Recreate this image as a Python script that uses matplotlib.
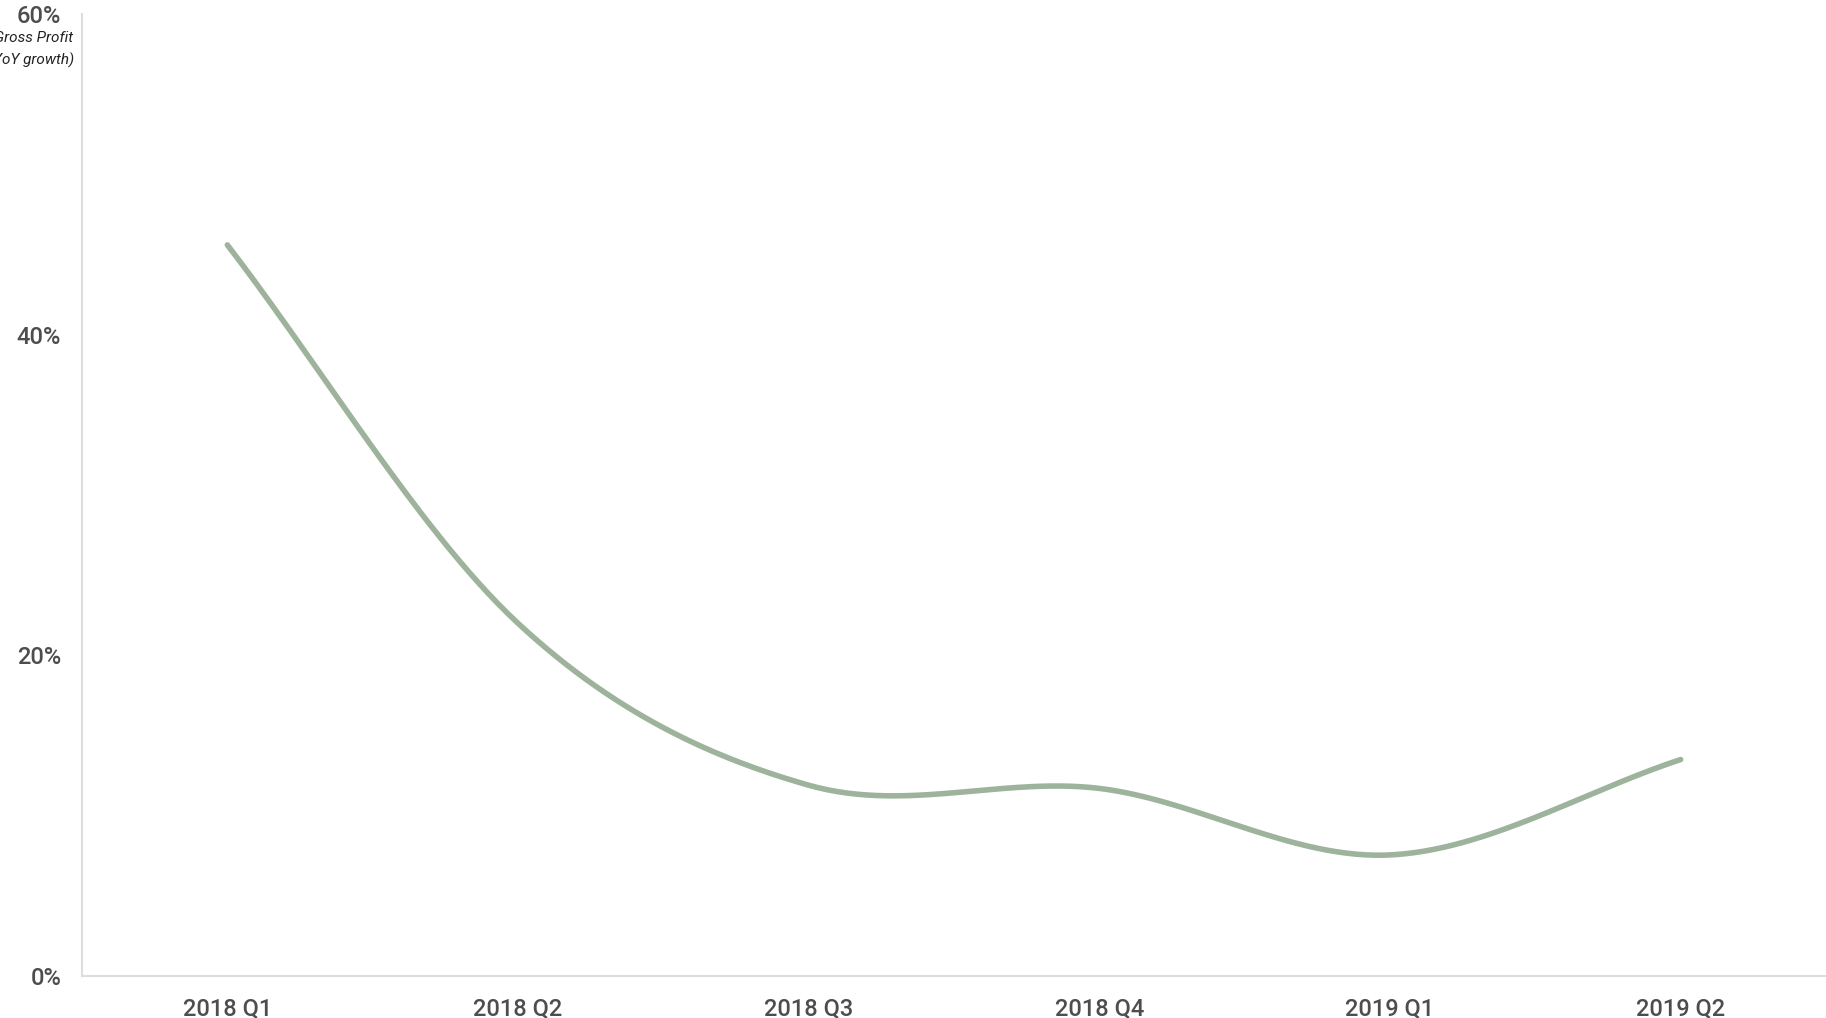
import matplotlib
matplotlib.use("Agg")
import matplotlib.pyplot as plt
import numpy as np

quarters = ["2018 Q1", "2018 Q2", "2018 Q3", "2018 Q4", "2019 Q1", "2019 Q2"]
growth = [45.6, 22.0, 11.9, 11.7, 7.55, 13.5]
yticks = [0, 20, 40, 60]
ytick_labels = ["0%", "20%", "40%", "60%"]

plt.rcParams['font.family'] = ['Roboto', 'DejaVu Sans']


def catmull_rom(y, steps=60):
    # smooth curve through the points (cardinal spline, tension 0)
    y = np.asarray(y, dtype=float)
    n = len(y)
    ext = np.concatenate([[2 * y[0] - y[1]], y, [2 * y[-1] - y[-2]]])
    xs, ys = [], []
    for i in range(n - 1):
        p0, p1, p2, p3 = ext[i], ext[i + 1], ext[i + 2], ext[i + 3]
        m1 = (p2 - p0) / 2
        m2 = (p3 - p1) / 2
        t = np.linspace(0, 1, steps, endpoint=(i == n - 2))
        h00 = 2 * t**3 - 3 * t**2 + 1
        h10 = t**3 - 2 * t**2 + t
        h01 = -2 * t**3 + 3 * t**2
        h11 = t**3 - t**2
        xs.append(i + t)
        ys.append(h00 * p1 + h10 * m1 + h01 * p2 + h11 * m2)
    return np.concatenate(xs), np.concatenate(ys)


fig = plt.figure(figsize=(18.26, 10.18), dpi=100)
ax = fig.add_axes([82 / 1826, 42 / 1018, 1 - 82 / 1826, 962 / 1018])

xs, ys = catmull_rom(growth)
ax.plot(xs, ys, color='#9eb39c', linewidth=4, solid_capstyle='round')

ax.set_xlim(-0.5, len(quarters) - 0.5)
ax.set_ylim(0, 60)
ax.set_xticks(range(len(quarters)))
ax.set_xticklabels(quarters, fontweight='medium')
ax.set_yticks(yticks)
ax.set_yticklabels(ytick_labels, fontweight='medium')
ax.tick_params(axis='both', length=0, labelsize=17, colors='#4d4d4d')
ax.tick_params(axis='y', pad=15)
ax.tick_params(axis='x', pad=15)

for s in ['top', 'right']:
    ax.spines[s].set_visible(False)
for s in ['left', 'bottom']:
    ax.spines[s].set_color('#dddddd')
    ax.spines[s].set_linewidth(1.5)

# axis title sits in the top-left corner, partly past the figure edge as in the source
fig.text(73 / 1826, 1 - 38 / 1018, "Gross Profit", ha='right', va='center',
         fontsize=11, style='italic', color='#222222')
fig.text(74 / 1826, 1 - 60 / 1018, "(YoY growth)", ha='right', va='center',
         fontsize=11, style='italic', color='#222222')

fig.savefig("out.png", dpi=100)
